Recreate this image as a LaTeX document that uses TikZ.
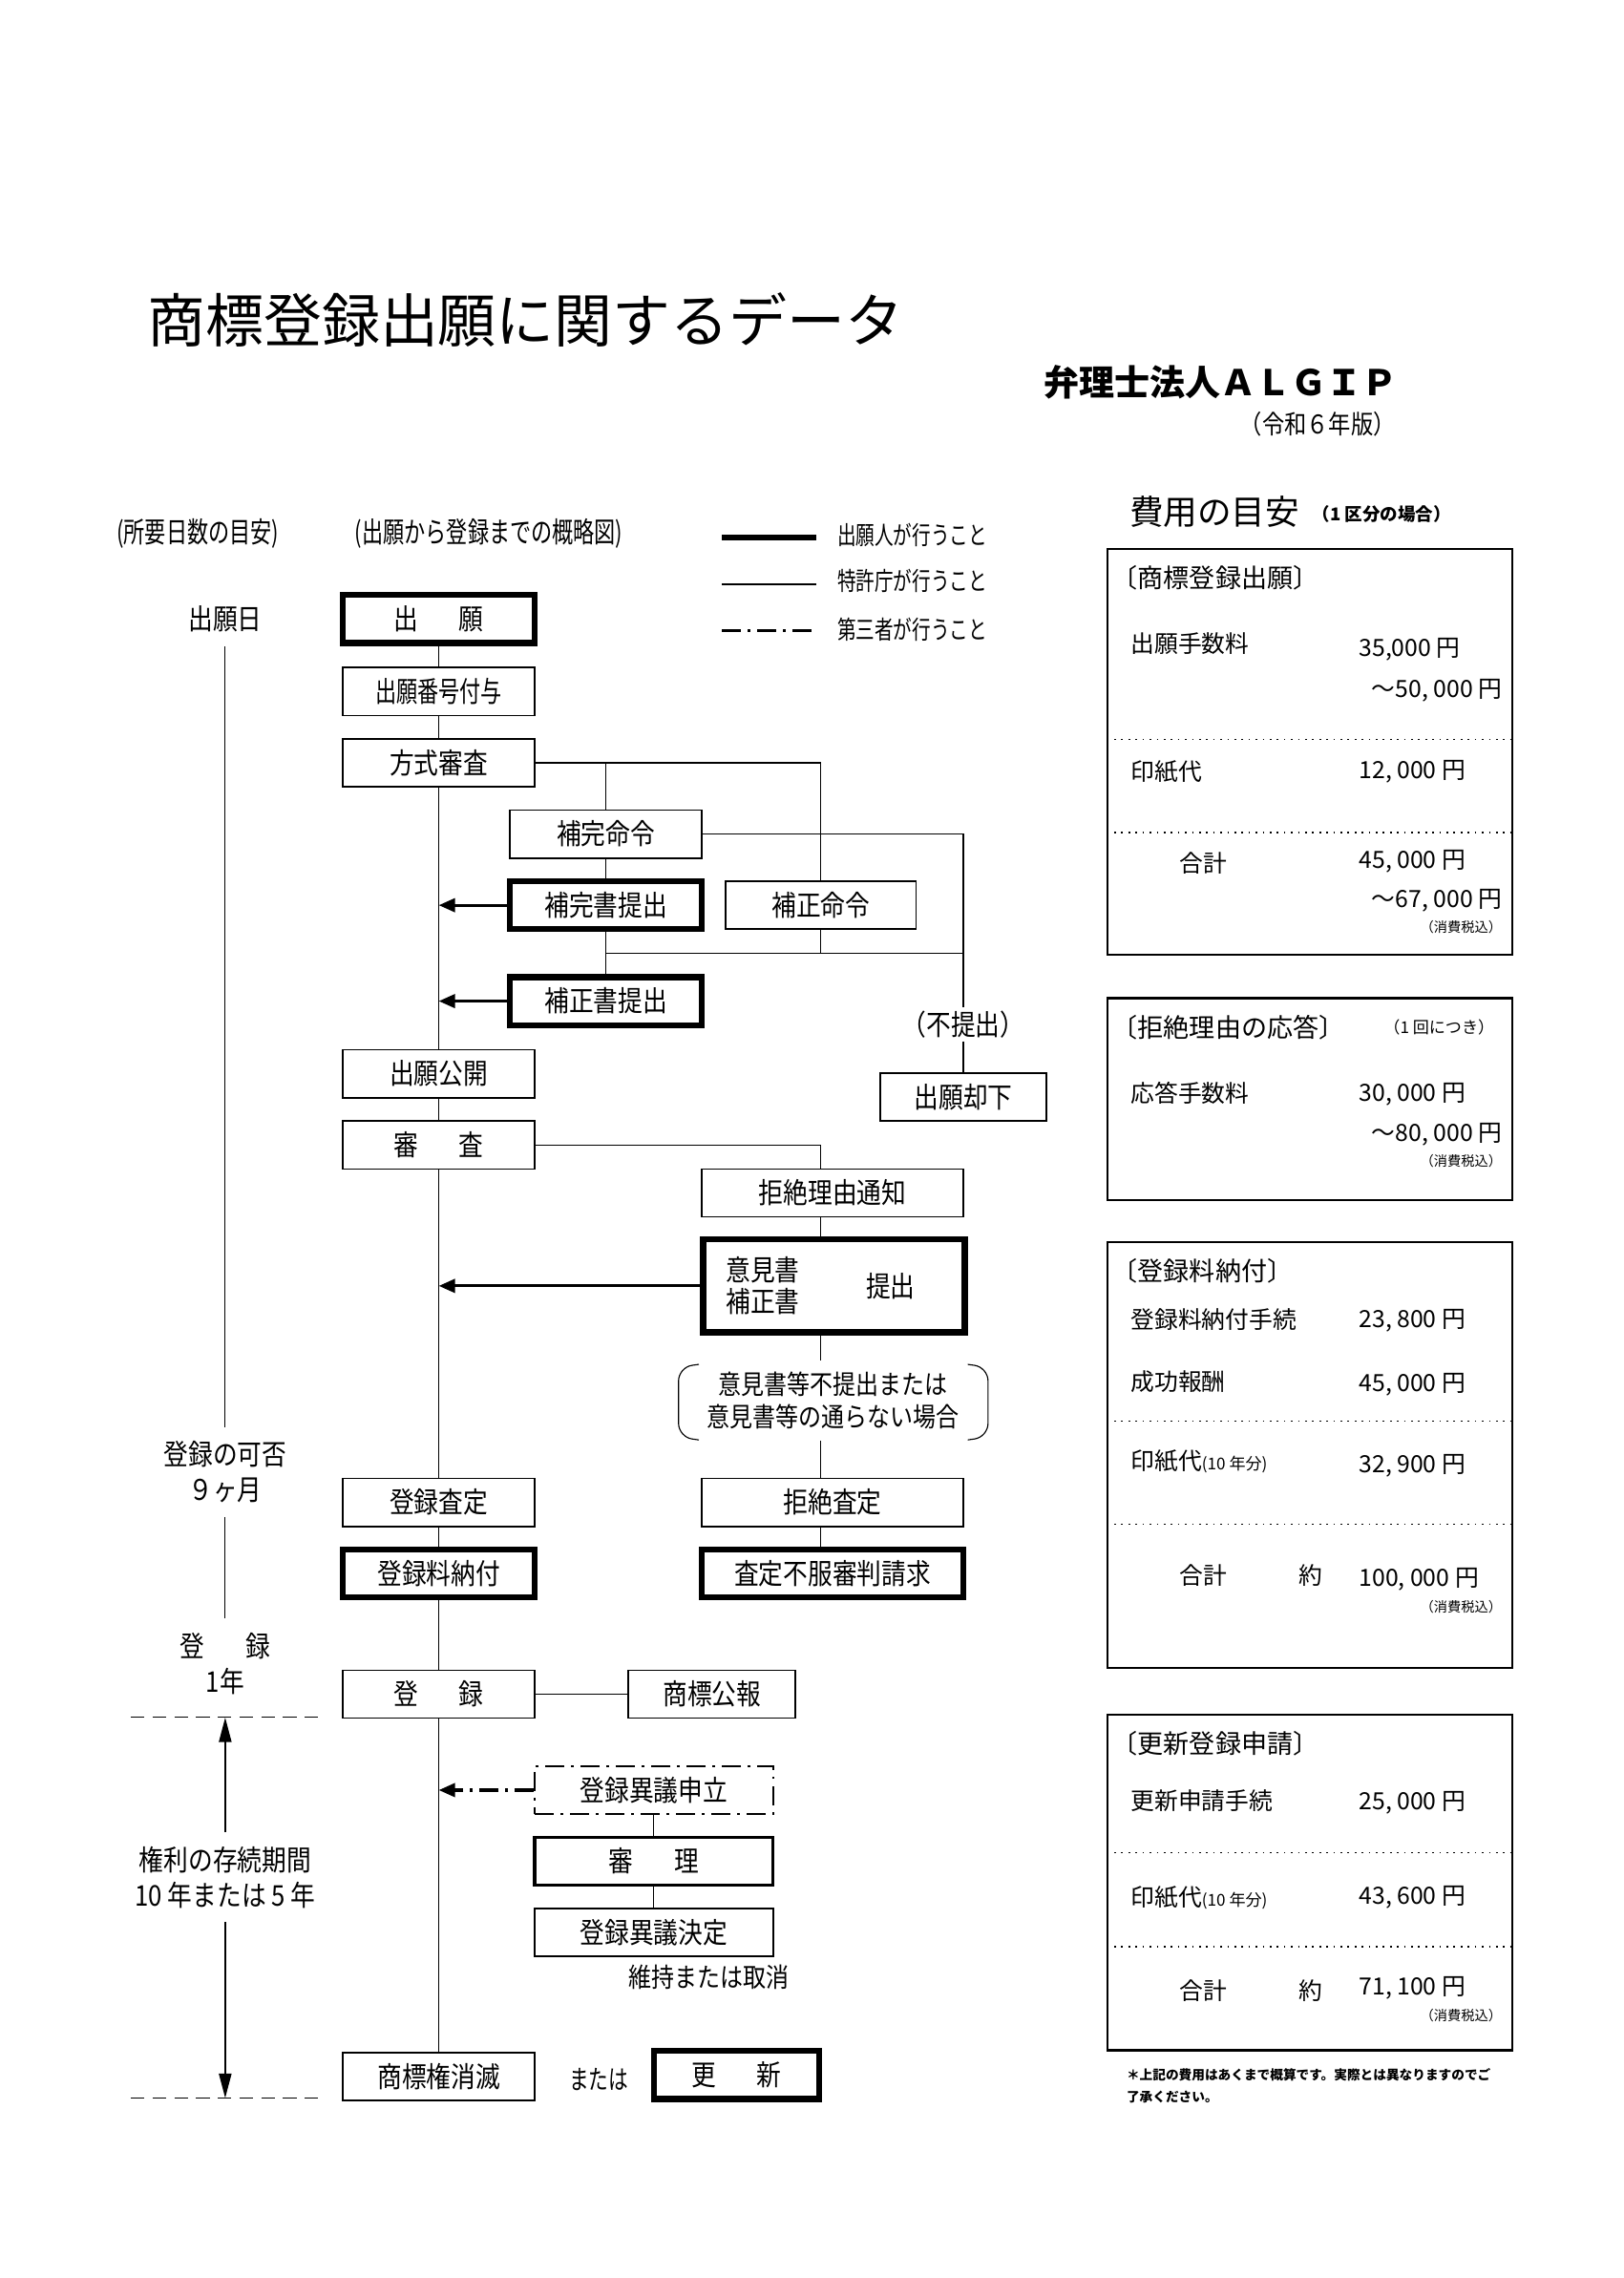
\documentclass[tikz,border=0pt]{standalone}
\usepackage{fontspec}
\setmainfont{Noto Sans CJK JP}
\newfontfamily\narrowfont[FakeStretch=0.86]{Noto Sans CJK JP}
\newfontfamily\condfont[FakeStretch=0.74]{Noto Sans CJK JP}
\usetikzlibrary{positioning,calc,arrows.meta}
\newlength\pxl
\setlength\pxl{0.01879cm}
\newcommand\flowfont{\narrowfont\fontsize{10.5}{13}\selectfont}
\newcommand\costfont{\fontsize{8.7}{10}\selectfont}
\newcommand\taxfont{\fontsize{5}{6}\selectfont}

\begin{document}
\begin{tikzpicture}[x=0.01879cm, y=-0.01879cm, >={Triangle[length=6pt,width=5pt]},
    box/.style={draw, line width=0.6pt, minimum width=132*\pxl, minimum height=33*\pxl, inner sep=0pt, font=\flowfont},
    thickbox/.style={box, line width=2.2pt},
    thirdline/.style={line width=0.9pt, dash pattern=on 7pt off 2.5pt on 1pt off 2.5pt},
    thirdbox/.style={box, thirdline, line width=0.6pt},
    arr/.style={->, line width=1.1pt},
    label/.style={inner sep=1pt, font=\flowfont},
    period/.style={inner sep=5pt, align=center, font=\flowfont},
    cost/.style={anchor=west, inner sep=0pt, font=\costfont},
    costr/.style={anchor=east, inner sep=0pt, font=\costfont},
    tax/.style={anchor=east, inner sep=0pt, font=\taxfont},
    head/.style={anchor=west, inner sep=0pt, font=\fontsize{9.5}{11}\selectfont},
    sep/.style={dotted, line width=0.6pt},
    panel/.style={line width=0.8pt}]

    \useasboundingbox (0,0) rectangle (1117.6,1567.8);

    % titles
    \node [anchor=west, inner sep=0pt, font=\fontsize{21.4}{24}\selectfont] (title) at (101,220) {商標登録出願に関するデータ};
    \node [anchor=west, inner sep=0pt, font=\bfseries\fontsize{13}{15}\selectfont] (firm) at (718,263) {弁理士法人ＡＬＧＩＰ};
    \node [anchor=west, inner sep=0pt, font=\narrowfont\fontsize{9.5}{11}\selectfont] (edition) at (853,292) {（令和６年版）};

    % column heads and legend
    \node [anchor=west, inner sep=0pt, font=\condfont\fontsize{10.5}{12}\selectfont] (headdays) at (80,367) {(所要日数の目安)};
    \node [anchor=west, inner sep=0pt, font=\condfont\fontsize{10.5}{12}\selectfont] (headflow) at (244,367) {(出願から登録までの概略図)};

    \coordinate (lg1a) at (497,370); \coordinate (lg1b) at (562,370);
    \coordinate (lg2a) at (497,402); \coordinate (lg2b) at (562,402);
    \coordinate (lg3a) at (497,434); \coordinate (lg3b) at (562,434);
    \draw [line width=2.2pt] (lg1a) -- (lg1b);
    \draw [line width=0.6pt] (lg2a) -- (lg2b);
    \draw [thirdline] (lg3a) -- (lg3b);
    \node [anchor=west, inner sep=0pt, font=\condfont\fontsize{9.3}{11}\selectfont] (lgtxt1) at (576,368) {出願人が行うこと};
    \node [anchor=west, inner sep=0pt, font=\condfont\fontsize{9.3}{11}\selectfont] (lgtxt2) at (576,400) {特許庁が行うこと};
    \node [anchor=west, inner sep=0pt, font=\condfont\fontsize{9.3}{11}\selectfont] (lgtxt3) at (576,433) {第三者が行うこと};

    % column positions
    \coordinate (colA) at (302,0);
    \coordinate (colB) at (417,0);
    \coordinate (colC) at (565,0);
    \coordinate (colD) at (663,0);

    % main column
    \node [thickbox] (shutsugan) at (302,426) {出\hspace{15pt}願};
    \node [box, font=\condfont\fontsize{10.5}{13}\selectfont] (bango) at (302,476) {出願番号付与};
    \node [box] (hoshiki) at (302,525) {方式審査};
    \node [box] (kokai) at (302,739) {出願公開};
    \node [box] (shinsa) at (302,788) {審\hspace{15pt}査};
    \node [box] (satei) at (302,1034) {登録査定};
    \node [thickbox] (nofu) at (302,1083) {登録料納付};
    \node [box] (toroku) at (302,1166) {登\hspace{15pt}録};
    \node [box] (shometsu) at (302,1429) {商標権消滅};

    \draw (shutsugan) -- (bango);
    \draw (bango) -- (hoshiki);
    \draw (hoshiki) -- (kokai);
    \draw (kokai) -- (shinsa);
    \draw (shinsa) -- (satei);
    \draw (satei) -- (nofu);
    \draw (nofu) -- (toroku);
    \draw (toroku) -- (shometsu);

    % formality examination
    \node [box] (hokanmei) at (417,574) {補完命令};
    \node [thickbox] (hokansho) at (417,623) {補完書提出};
    \node [thickbox] (hoseisho) at (417,689) {補正書提出};
    \node [box, minimum width=131*\pxl] (hoseimei) at (565,623) {補正命令};
    \node [label] (futeishutsu) at (663,705) {（不提出）};
    \node [box, minimum width=114*\pxl] (kyakka) at (663,755) {出願却下};

    \draw (hokanmei.north) |- (hoshiki.east);
    \draw (hoshiki.east) -| (hoseimei.north);
    \draw (hokanmei) -- (hokansho);
    \draw (hokansho) -- (hoseisho);
    \draw (hokanmei.east) -| (futeishutsu.north);
    \coordinate (jn1) at (417,656);
    \coordinate (jn2) at (663,656);
    \draw (jn1) -- (jn2);
    \draw (hoseimei) -- (hoseimei |- jn1);
    \draw (futeishutsu) -- (kyakka);
    \draw [arr] (hokansho.west) -- (hokansho.west -| colA);
    \draw [arr] (hoseisho.west) -- (hoseisho.west -| colA);

    % substantive examination
    \node [box, minimum width=180*\pxl] (tsuchi) at (573,821) {拒絶理由通知};
    \node [thickbox, minimum width=180*\pxl, minimum height=64*\pxl] (iken) at (574,885) {};
    \node [label] (ikensho) at (525,874) {意見書};
    \node [label] (hoseisho2) at (525,896) {補正書};
    \node [label] (teishutsu) at (613,885) {提出};
    \node [label, align=center, inner sep=4pt, font=\narrowfont\fontsize{9.8}{11.9}\selectfont] (joken) at (573,964) {意見書等不提出または\\意見書等の通らない場合};
    \node [box, minimum width=180*\pxl] (kyozetsu) at (573,1034) {拒絶査定};
    \node [thickbox, minimum width=180*\pxl] (fufuku) at (573,1083) {査定不服審判請求};

    \draw (shinsa.east) -| (colC |- tsuchi.north);
    \draw (tsuchi.south -| colC) -- (iken.north -| colC);
    \draw (iken.south -| colC) -- (joken.north -| colC);
    \draw (joken.south -| colC) -- (kyozetsu.north -| colC);
    \draw (kyozetsu.south -| colC) -- (fufuku.north -| colC);
    \draw [arr] (iken.west) -- (iken.west -| colA);
    \draw [rounded corners=5pt] (481,939) -- (467,941) -- (467,989) -- (481,991);
    \draw [rounded corners=5pt] (666,939) -- (680,941) -- (680,989) -- (666,991);

    % registration and opposition
    \node [box, minimum width=115*\pxl] (koho) at (490,1166) {商標公報};
    \node [thirdbox, minimum width=164*\pxl] (igi) at (450,1232) {登録異議申立};
    \node [box, minimum width=164*\pxl, line width=1.1pt] (shinri) at (450,1281) {審\hspace{15pt}理};
    \node [box, minimum width=164*\pxl] (kettei) at (450,1330) {登録異議決定};
    \node [label, font=\narrowfont\fontsize{9.8}{12}\selectfont] (iji) at (488,1361) {維持または取消};
    \node [label, font=\condfont\fontsize{9.8}{12}\selectfont] (matawa) at (412,1431) {または};
    \node [thickbox, minimum width=114*\pxl, minimum height=33*\pxl] (koshin) at (507,1428) {更\hspace{15pt}新};

    \draw (toroku) -- (koho);
    \draw [thirdline, ->, line width=1.1pt] (igi.west) -- (igi.west -| colA);
    \draw (igi) -- (shinri);
    \draw (shinri) -- (kettei);

    % time line
    \node [period] (shutsuganbi) at (155,426) {出願日};
    \node [period] (kahi) at (155,1013) {登録の可否\\９ヶ月};
    \node [period] (torokuki) at (155,1145) {登\hspace{15pt}録\\1年};
    \node [period] (sonzoku) at (155,1292) {権利の存続期間\\10 年または 5 年};
    \coordinate (dl1a) at (90,1182); \coordinate (dl1b) at (220,1182);
    \coordinate (dl2a) at (90,1444); \coordinate (dl2b) at (220,1444);
    \draw [dashed, dash pattern=on 5pt off 3pt] (dl1a) -- (dl1b);
    \draw [dashed, dash pattern=on 5pt off 3pt] (dl2a) -- (dl2b);
    \draw (shutsuganbi) -- (kahi);
    \draw (kahi) -- (torokuki);
    \draw [->, >={Triangle[length=9pt,width=4.5pt]}, line width=0.8pt] (sonzoku.north) -- (sonzoku.north |- dl1a);
    \draw [->, >={Triangle[length=9pt,width=4.5pt]}, line width=0.8pt] (sonzoku.south) -- (sonzoku.south |- dl2a);

    % cost panel
    \node [anchor=west, inner sep=0pt, font=\fontsize{12.5}{14}\selectfont] (costhead) at (777,352) {費用の目安};
    \node [anchor=west, inner sep=0pt, font=\bfseries\fontsize{6.5}{8}\selectfont] (costnote) at (903,354) {（1 区分の場合）};

    \draw [panel] (762,378) rectangle (1041,657);
    \draw [sep] (762,509) -- (1041,509);
    \draw [sep] (762,573) -- (1041,573);
    \node [head] (h1) at (765,398) {〔商標登録出願〕};
    \node [cost] (c11) at (778,443) {出願手数料};
    \node [cost] (v11) at (935,447) {35,000 円};
    \node [costr] (v12) at (1034,475) {～50, 000 円};
    \node [cost] (c12) at (778,531) {印紙代};
    \node [cost] (v13) at (935,531) {12, 000 円};
    \node [inner sep=0pt, font=\costfont] (c13) at (828,594) {合計};
    \node [cost] (v14) at (935,593) {45, 000 円};
    \node [costr] (v15) at (1034,620) {～67, 000 円};
    \node [tax] (t1) at (1034,638) {（消費税込）};

    \draw [panel] (762,687) rectangle (1041,826);
    \node [head] (h2) at (765,707) {〔拒絶理由の応答〕};
    \node [anchor=west, inner sep=0pt, font=\fontsize{6}{7}\selectfont] (h2n) at (952,707) {（1 回につき）};
    \node [cost] (c21) at (778,752) {応答手数料};
    \node [cost] (v21) at (935,753) {30, 000 円};
    \node [costr] (v22) at (1034,781) {～80, 000 円};
    \node [tax] (t2) at (1034,799) {（消費税込）};

    \draw [panel] (762,855) rectangle (1041,1148);
    \draw [sep] (762,978) -- (1041,978);
    \draw [sep] (762,1049) -- (1041,1049);
    \node [head] (h3) at (765,875) {〔登録料納付〕};
    \node [cost] (c31) at (778,908) {登録料納付手続};
    \node [cost] (v31) at (935,909) {23, 800 円};
    \node [cost] (c32) at (778,951) {成功報酬};
    \node [cost] (v32) at (935,953) {45, 000 円};
    \node [cost] (c33) at (778,1006) {印紙代{\fontsize{6}{7}\selectfont(10 年分)}};
    \node [cost] (v33) at (935,1009) {32, 900 円};
    \node [inner sep=0pt, font=\costfont] (c34) at (828,1084) {合計};
    \node [inner sep=0pt, font=\costfont] (y34) at (902,1084) {約};
    \node [cost] (v34) at (935,1087) {100, 000 円};
    \node [tax] (t3) at (1034,1106) {（消費税込）};

    \draw [panel] (762,1180) rectangle (1041,1411);
    \draw [sep] (762,1275) -- (1041,1275);
    \draw [sep] (762,1340) -- (1041,1340);
    \node [head] (h4) at (765,1200) {〔更新登録申請〕};
    \node [cost] (c41) at (778,1239) {更新申請手続};
    \node [cost] (v41) at (935,1241) {25, 000 円};
    \node [cost] (c42) at (778,1306) {印紙代{\fontsize{6}{7}\selectfont(10 年分)}};
    \node [cost] (v42) at (935,1306) {43, 600 円};
    \node [inner sep=0pt, font=\costfont] (c43) at (828,1370) {合計};
    \node [inner sep=0pt, font=\costfont] (y43) at (902,1370) {約};
    \node [cost] (v43) at (935,1368) {71, 100 円};
    \node [tax] (t4) at (1034,1387) {（消費税込）};

    \node [anchor=west, inner sep=0pt, font=\bfseries\fontsize{4.8}{6}\selectfont] (foot1) at (775,1428) {＊上記の費用はあくまで概算です。実際とは異なりますのでご};
    \node [anchor=west, inner sep=0pt, font=\bfseries\fontsize{4.8}{6}\selectfont] (foot2) at (775,1443) {了承ください。};

\end{tikzpicture}
\end{document}
